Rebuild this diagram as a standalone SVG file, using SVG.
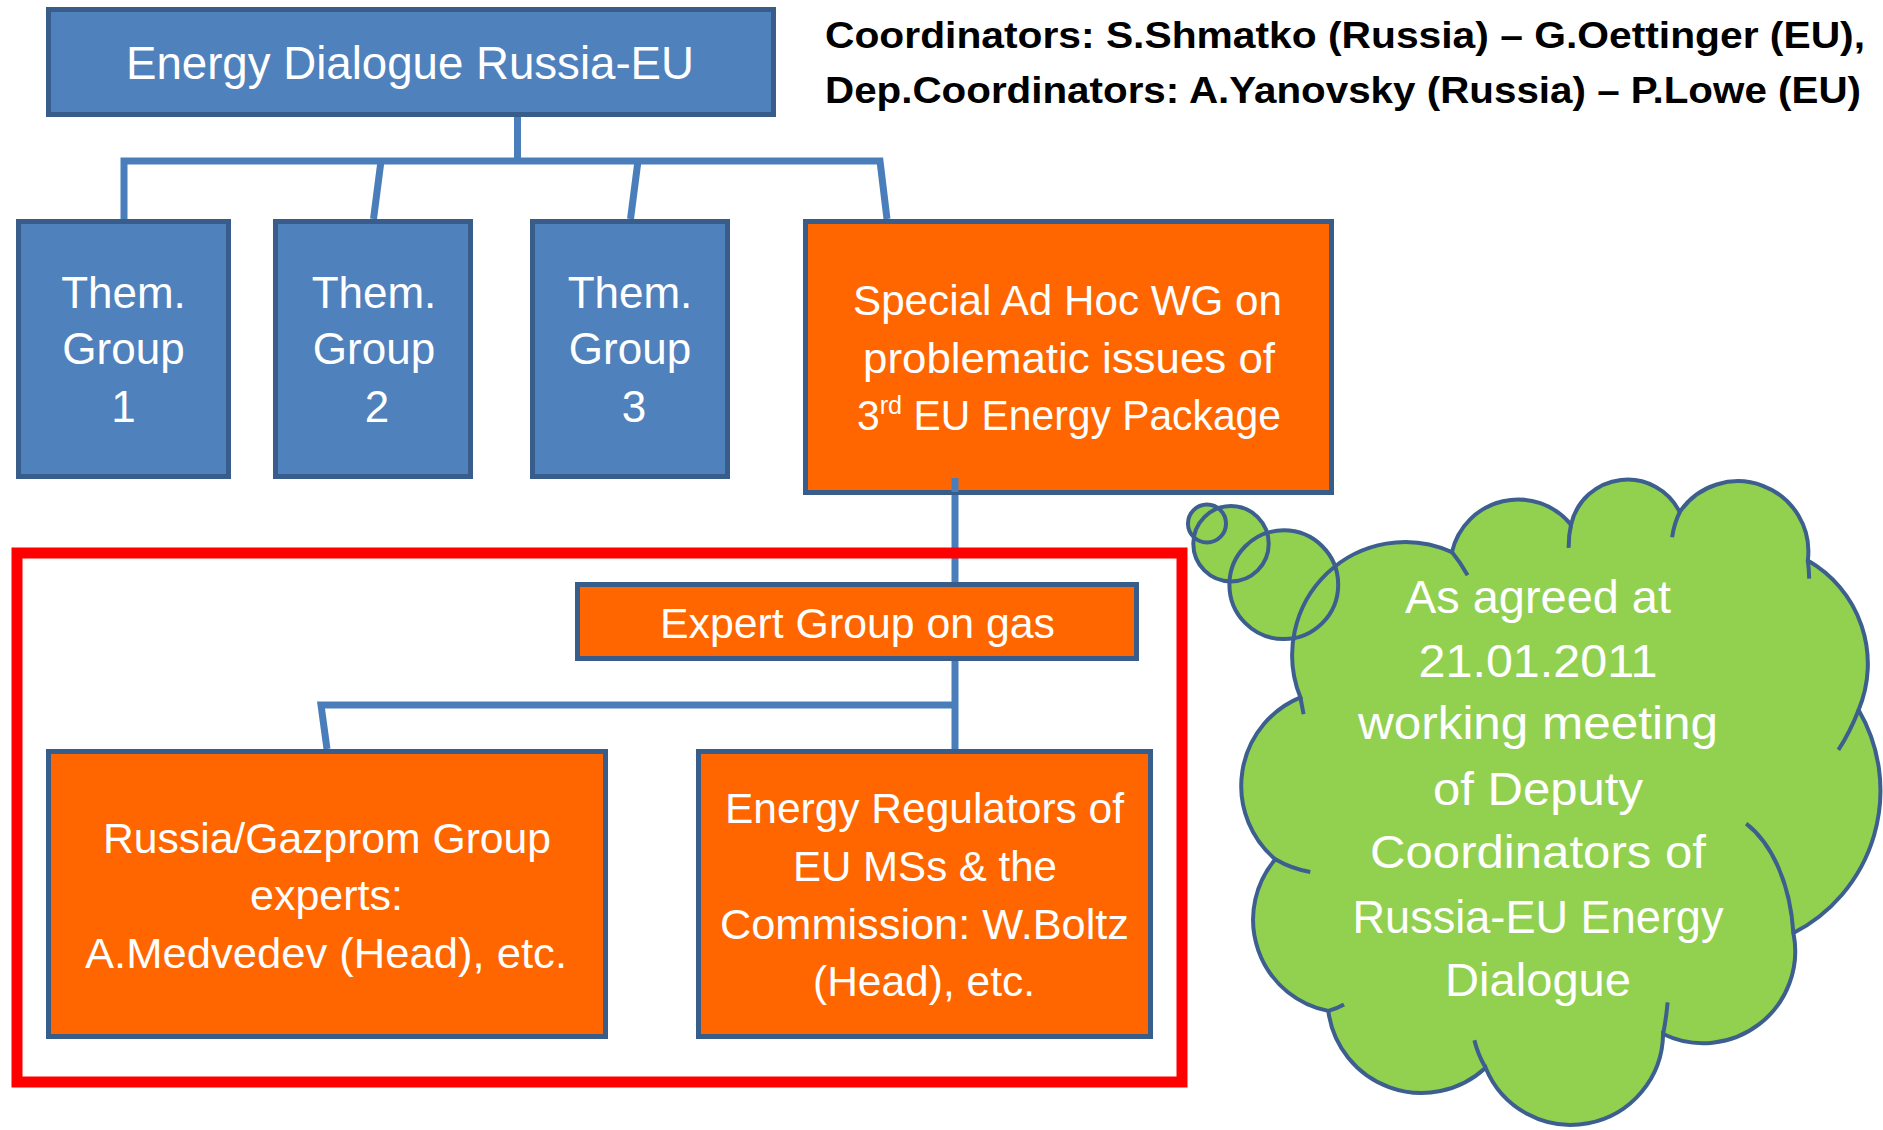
<svg xmlns="http://www.w3.org/2000/svg" width="1883" height="1130" viewBox="0 0 1883 1130">
<style>
  .blue { fill: #4f81bd; stroke: #385d8a; stroke-width: 5; }
  .orange { fill: #ff6600; stroke: #385d8a; stroke-width: 5; }
  .lbl { fill: #ffffff; font-family: "Liberation Sans", Arial, sans-serif; text-anchor: middle; }
  .conn { fill: none; stroke: #4a7ebb; stroke-width: 7; stroke-linejoin: miter; }
  .coord { fill: #000000; font-family: "Liberation Sans", Arial, sans-serif; font-weight: bold; font-size: 37px; }
  .cloudfill { fill: #92d050; stroke: none; }
  .cloudline { fill: none; stroke: #3d5f8f; stroke-width: 4; stroke-linecap: butt; }
</style>
<rect width="1883" height="1130" fill="#ffffff"/>

<g id="connectors">
  <path class="conn" d="M517.5,117 V161 M124,219 V161 H880 L887,219 M381,161 L373.5,219 M638,161 L630.5,219"/>
  <path class="conn" d="M955,478 V584"/>
  <path class="conn" d="M955,661 V749 M955,705 H321 L327,749"/>
</g>

<g id="node-energy-dialogue">
  <rect class="blue" x="48.5" y="9.5" width="725" height="105"/>
  <text class="lbl" x="410" y="79" font-size="46" textLength="568" lengthAdjust="spacingAndGlyphs">Energy Dialogue Russia-EU</text>
</g>

<g id="node-coordinators">
  <text class="coord" x="825" y="48" textLength="1040" lengthAdjust="spacingAndGlyphs">Coordinators: S.Shmatko (Russia) – G.Oettinger (EU),</text>
  <text class="coord" x="825" y="103" textLength="1036" lengthAdjust="spacingAndGlyphs">Dep.Coordinators: A.Yanovsky (Russia) – P.Lowe (EU)</text>
</g>

<g id="node-group1">
  <rect class="blue" x="18.5" y="221.5" width="210" height="255"/>
  <text class="lbl" font-size="44" x="123.5" y="308">Them.</text>
  <text class="lbl" font-size="44" x="123.5" y="364">Group</text>
  <text class="lbl" font-size="44" x="123.5" y="422">1</text>
</g>
<g id="node-group2">
  <rect class="blue" x="275.5" y="221.5" width="195" height="255"/>
  <text class="lbl" font-size="44" x="374" y="308">Them.</text>
  <text class="lbl" font-size="44" x="374" y="364">Group</text>
  <text class="lbl" font-size="44" x="377" y="422">2</text>
</g>
<g id="node-group3">
  <rect class="blue" x="532.5" y="221.5" width="195" height="255"/>
  <text class="lbl" font-size="44" x="630" y="308">Them.</text>
  <text class="lbl" font-size="44" x="630" y="364">Group</text>
  <text class="lbl" font-size="44" x="634" y="422">3</text>
</g>

<g id="node-adhoc-wg">
  <rect class="orange" x="805.5" y="221.5" width="526" height="271"/>
  <path class="conn" d="M955,478 V492"/>
  <text class="lbl" font-size="42" x="1067.5" y="315" textLength="429" lengthAdjust="spacingAndGlyphs">Special Ad Hoc WG on</text>
  <text class="lbl" font-size="42" x="1069" y="373" textLength="412" lengthAdjust="spacingAndGlyphs">problematic issues of</text>
  <text class="lbl" font-size="42" x="1069" y="430" textLength="424" lengthAdjust="spacingAndGlyphs">3<tspan font-size="26" dy="-16">rd</tspan><tspan dy="16"> EU Energy Package</tspan></text>
</g>

<g id="node-expert-group">
  <rect class="orange" x="577.5" y="584.5" width="559" height="74"/>
  <text class="lbl" font-size="42" x="857.5" y="638" textLength="395" lengthAdjust="spacingAndGlyphs">Expert Group on gas</text>
</g>

<g id="node-gazprom">
  <rect class="orange" x="48.5" y="751.5" width="557" height="285"/>
  <text class="lbl" font-size="42" x="327" y="853" textLength="448" lengthAdjust="spacingAndGlyphs">Russia/Gazprom Group</text>
  <text class="lbl" font-size="42" x="326.5" y="910" textLength="153" lengthAdjust="spacingAndGlyphs">experts:</text>
  <text class="lbl" font-size="42" x="326" y="968" textLength="482" lengthAdjust="spacingAndGlyphs">A.Medvedev (Head), etc.</text>
</g>

<g id="node-regulators">
  <rect class="orange" x="698.5" y="751.5" width="452" height="285"/>
  <text class="lbl" font-size="42" x="924.5" y="823" textLength="399" lengthAdjust="spacingAndGlyphs">Energy Regulators of</text>
  <text class="lbl" font-size="42" x="925" y="881" textLength="264" lengthAdjust="spacingAndGlyphs">EU MSs &amp; the</text>
  <text class="lbl" font-size="42" x="924.5" y="939" textLength="409" lengthAdjust="spacingAndGlyphs">Commission: W.Boltz</text>
  <text class="lbl" font-size="42" x="924" y="996" textLength="222" lengthAdjust="spacingAndGlyphs">(Head), etc.</text>
</g>

<g id="node-red-frame">
  <rect x="17" y="553" width="1165" height="529" fill="none" stroke="#ff0000" stroke-width="11"/>
</g>

<g id="node-cloud">
  <path class="cloudfill" d="M1300.4,697.3 A113,113 0 0 1 1451.9,552.1 A68,68 0 0 1 1571,524.7 A58,58 0 0 1 1679.7,512.1 A70.4,70.4 0 0 1 1807.8,560.5 A119,119 0 0 1 1858.6,709.9 A160,160 0 0 1 1793.4,933 A92,92 0 0 1 1663.1,1034 A92.2,92.2 0 0 1 1485.6,1067.7 A94,94 0 0 1 1328.3,1010.9 A93,93 0 0 1 1275.3,859.3 A96,96 0 0 1 1300.4,697.3 Z"/>
  <circle class="cloudfill" cx="1207" cy="523.5" r="19"/>
  <circle class="cloudfill" cx="1231" cy="543.7" r="37.7"/>
  <circle class="cloudfill" cx="1283.8" cy="584.7" r="54.4"/>
  <path class="cloudline" d="M1300.4,697.3 A113,113 0 0 1 1451.9,552.1 A68,68 0 0 1 1571,524.7 A58,58 0 0 1 1679.7,512.1 A70.4,70.4 0 0 1 1807.8,560.5 A119,119 0 0 1 1858.6,709.9 A160,160 0 0 1 1793.4,933 A92,92 0 0 1 1663.1,1034 A92.2,92.2 0 0 1 1485.6,1067.7 A94,94 0 0 1 1328.3,1010.9 A93,93 0 0 1 1275.3,859.3 A96,96 0 0 1 1300.4,697.3 Z"/>
  <path class="cloudline" d="M1300.4,697.3 Q1302,706 1303.6,714.1 M1451.9,552.1 Q1460,562 1467.6,575.2 M1571,524.7 Q1568.5,536 1568.7,547.9 M1679.7,512.1 Q1674,524 1672.1,537.3 M1807.8,560.5 Q1809,569 1809.2,578.6 M1858.6,709.9 Q1850,732 1838.4,749.9 M1746.2,823.6 C1770,842 1790,880 1793.4,933 M1667.6,1002.4 Q1666,1020 1663.1,1034 M1474.4,1040.3 Q1478,1055 1485.6,1067.7 M1344,1004.5 Q1336,1009 1328.3,1010.9 M1310.3,872 Q1292,869 1275.3,859.3"/>
  <circle class="cloudline" cx="1207" cy="523.5" r="19"/>
  <circle class="cloudline" cx="1231" cy="543.7" r="37.7"/>
  <circle class="cloudline" cx="1283.8" cy="584.7" r="54.4"/>
  <text class="lbl" font-size="46" x="1538" y="613" textLength="266" lengthAdjust="spacingAndGlyphs">As agreed at</text>
  <text class="lbl" font-size="46" x="1538" y="677" textLength="239" lengthAdjust="spacingAndGlyphs">21.01.2011</text>
  <text class="lbl" font-size="46" x="1538" y="739" textLength="360" lengthAdjust="spacingAndGlyphs">working meeting</text>
  <text class="lbl" font-size="46" x="1538" y="805" textLength="210" lengthAdjust="spacingAndGlyphs">of Deputy</text>
  <text class="lbl" font-size="46" x="1538" y="868" textLength="336" lengthAdjust="spacingAndGlyphs">Coordinators of</text>
  <text class="lbl" font-size="46" x="1538" y="933" textLength="371" lengthAdjust="spacingAndGlyphs">Russia-EU Energy</text>
  <text class="lbl" font-size="46" x="1538" y="996" textLength="186" lengthAdjust="spacingAndGlyphs">Dialogue</text>
</g>
</svg>
